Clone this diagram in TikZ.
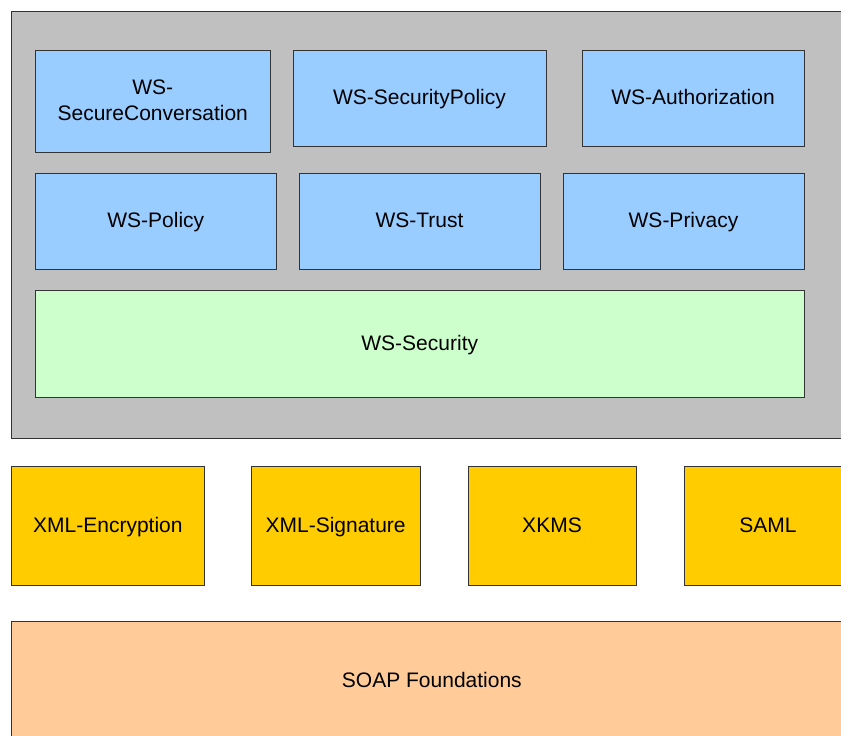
\documentclass[tikz,border=0pt]{standalone}
\usepackage{fontspec}
\setmainfont{Liberation Sans}
\definecolor{frame}{HTML}{C0C0C0}
\definecolor{wsblue}{HTML}{99CCFF}
\definecolor{wsgreen}{HTML}{CCFFCC}
\definecolor{xmlgold}{HTML}{FFCC00}
\definecolor{soappeach}{HTML}{FFCC99}
\definecolor{edge}{HTML}{333333}
\tikzset{
  layer/.style={draw=edge, line width=1pt, inner sep=0pt, align=center,
    text height=15pt, text depth=2pt,
    font=\fontsize{21}{26}\selectfont},
  spec/.style={layer, fill=wsblue},
  core/.style={layer, fill=wsgreen},
  xmlstd/.style={layer, fill=xmlgold, minimum height=119pt},
}
\begin{document}
\begin{tikzpicture}[x=1pt, y=-1pt]
  \useasboundingbox (0,0) rectangle (841,736);
  \clip (0,0) rectangle (841,736);
  \fill[white] (0,0) rectangle (841,736);
  % security stack frame
  \node[layer, fill=frame, minimum width=840.5pt, minimum height=427.5pt] (stack) at (431.75,224.75) {};
  % upper specifications (two-line label: baseline sits on its last line)
  \node[spec, text height=41.4pt, minimum width=234.5pt, minimum height=102pt] (secconv) at (152.75,101) {WS-\\SecureConversation};
  \node[spec, minimum width=253pt, minimum height=96pt] (secpol) at (419.5,98) {WS-SecurityPolicy};
  \node[spec, minimum width=222pt, minimum height=96pt] (authz) at (693,98) {WS-Authorization};
  \node[spec, minimum width=240.5pt, minimum height=96pt] (policy) at (155.75,221) {WS-Policy};
  \node[spec, minimum width=241pt, minimum height=96pt] (trust) at (419.5,221) {WS-Trust};
  \node[spec, minimum width=241pt, minimum height=96pt] (privacy) at (683.5,221) {WS-Privacy};
  \node[core, minimum width=768.5pt, minimum height=107pt] (wssec) at (419.75,343.5) {WS-Security};
  % XML standards
  \node[xmlstd, minimum width=192.3pt] (xmlenc) at (107.85,525.5) {XML-Encryption};
  \node[xmlstd, minimum width=168.7pt] (xmlsig) at (335.65,525.5) {XML-Signature};
  \node[xmlstd, minimum width=168pt] (xkms) at (552,525.5) {XKMS};
  \node[xmlstd, minimum width=168pt] (saml) at (768,525.5) {SAML};
  % base layer
  \node[layer, fill=soappeach, minimum width=840.3pt, minimum height=120pt] (soap) at (431.85,681) {SOAP Foundations};
\end{tikzpicture}
\end{document}
